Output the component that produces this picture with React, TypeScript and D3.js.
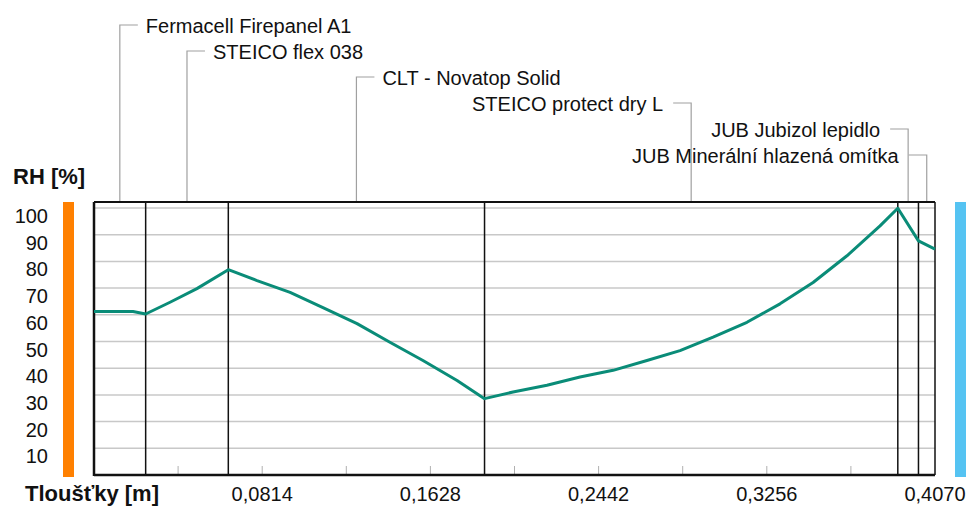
import React from "react";
import * as d3 from "d3";

const layerNames = [
  "Fermacell Firepanel A1",
  "STEICO flex 038",
  "CLT - Novatop Solid",
  "STEICO protect dry L",
  "JUB Jubizol lepidlo",
  "JUB Minerální hlazená omítka",
];
const layerThickness = [0.025, 0.04, 0.124, 0.2, 0.01, 0.008];

const rhX = [0, 0.0189, 0.025, 0.0368, 0.0498, 0.065, 0.0789, 0.0949, 0.1108, 0.1273, 0.1432, 0.1592, 0.1757, 0.189,
  0.2028, 0.2192, 0.2352, 0.2512, 0.2676, 0.2836, 0.2996, 0.316, 0.332, 0.348, 0.3644, 0.3804, 0.389, 0.399, 0.407];
const rhY = [61.2, 61.2, 60.3, 64.7, 69.8, 76.9, 72.8, 68.4, 62.7, 56.7, 49.7, 42.9, 35.4, 28.6,
  31.1, 33.6, 36.7, 39.2, 42.9, 46.6, 51.6, 57.2, 64.1, 72.1, 82.1, 93.3, 99.9, 87.7, 84.6];

const yTicks = [10, 20, 30, 40, 50, 60, 70, 80, 90, 100];
const xTicks = [0.0814, 0.1628, 0.2442, 0.3256, 0.407];
const xMinorTicks = [0.0407, 0.0814, 0.1221, 0.1628, 0.2035, 0.2442, 0.2849, 0.3256, 0.3663];

export default function App() {
  const W = 972, H = 506;
  const total = 0.407;
  const x = d3.scaleLinear().domain([0, total]).range([94, 935]);
  const y = d3.scaleLinear().domain([0, 100]).range([475, 208]);
  const plotTop = 202, plotBottom = 475;

  const bounds: number[] = [];
  let acc = 0;
  layerThickness.forEach((t) => { acc += t; bounds.push(acc); });
  const starts = [0, ...bounds.slice(0, -1)];

  const pts = rhX.map((v, i) => [v, rhY[i]] as [number, number]);
  const line = d3.line<[number, number]>().x((d) => x(d[0])).y((d) => y(d[1]));

  const font = "'Liberation Sans', Arial, sans-serif";

  return (
    <svg width={W} height={H} style={{ position: "absolute", left: 0, top: 0, background: "#fff" }} fontFamily={font}>
      <rect x={0} y={0} width={W} height={H} fill="#fff" />
      {/* gridlines */}
      {yTicks.map((t) => (
        <line key={"g" + t} x1={x(0)} x2={x(total)} y1={y(t)} y2={y(t)} stroke="#c8c8c8" strokeWidth={1.5} />
      ))}
      {/* minor ticks */}
      {xMinorTicks.map((t) => (
        <line key={"m" + t} x1={x(t)} x2={x(t)} y1={plotBottom - 9} y2={plotBottom} stroke="#b0b0b0" strokeWidth={1} />
      ))}
      {/* leader lines and labels */}
      {layerNames.map((name, i) => {
        const mid = x((starts[i] + bounds[i]) / 2);
        const ly = 25 + i * 26;
        const right = i < 3;
        return (
          <g key={name}>
            <polyline
              points={`${mid},${plotTop} ${mid},${ly} ${right ? mid + 18 : mid - 18},${ly}`}
              fill="none" stroke="#a0a0a0" strokeWidth={1.2} />
            <text x={right ? mid + 26 : mid - 28} y={ly + 8} fontSize={20} fill="#111"
              textAnchor={right ? "start" : "end"}>{name}</text>
          </g>
        );
      })}
      {/* layer boundaries */}
      {bounds.slice(0, -1).map((b, i) => (
        <line key={"b" + i} x1={x(b)} x2={x(b)} y1={plotTop} y2={plotBottom} stroke="#111" strokeWidth={1.5} />
      ))}
      {/* frame */}
      <line x1={x(0)} x2={x(total)} y1={plotTop} y2={plotTop} stroke="#111" strokeWidth={2} />
      <line x1={x(total)} x2={x(total)} y1={plotTop} y2={plotBottom} stroke="#111" strokeWidth={1.5} />
      <line x1={x(0)} x2={x(0)} y1={plotTop} y2={plotBottom + 1} stroke="#111" strokeWidth={2.5} />
      <line x1={x(0)} x2={x(total)} y1={plotBottom} y2={plotBottom} stroke="#111" strokeWidth={2.5} />
      {/* curve */}
      <path d={line(pts) || ""} fill="none" stroke="#0a8c78" strokeWidth={3} strokeLinejoin="round" />
      {/* side bars */}
      <rect x={63} y={plotTop} width={11} height={plotBottom - plotTop + 2} fill="#ff8000" />
      <rect x={955} y={plotTop} width={11} height={plotBottom - plotTop + 2} fill="#55c3f2" />
      {/* y labels */}
      {yTicks.map((t) => (
        <text key={"y" + t} x={48} y={y(t) + 15} fontSize={20} textAnchor="end" fill="#111">{t}</text>
      ))}
      <text x={13} y={184} fontSize={22} fontWeight="bold" fill="#111">RH [%]</text>
      {/* x labels */}
      {xTicks.map((t) => (
        <text key={"x" + t} x={x(t)} y={501} fontSize={20} textAnchor="middle" fill="#111">
          {t.toFixed(4).replace(".", ",")}
        </text>
      ))}
      <text x={25} y={501} fontSize={22} fontWeight="bold" fill="#111">Tloušťky [m]</text>
    </svg>
  );
}
